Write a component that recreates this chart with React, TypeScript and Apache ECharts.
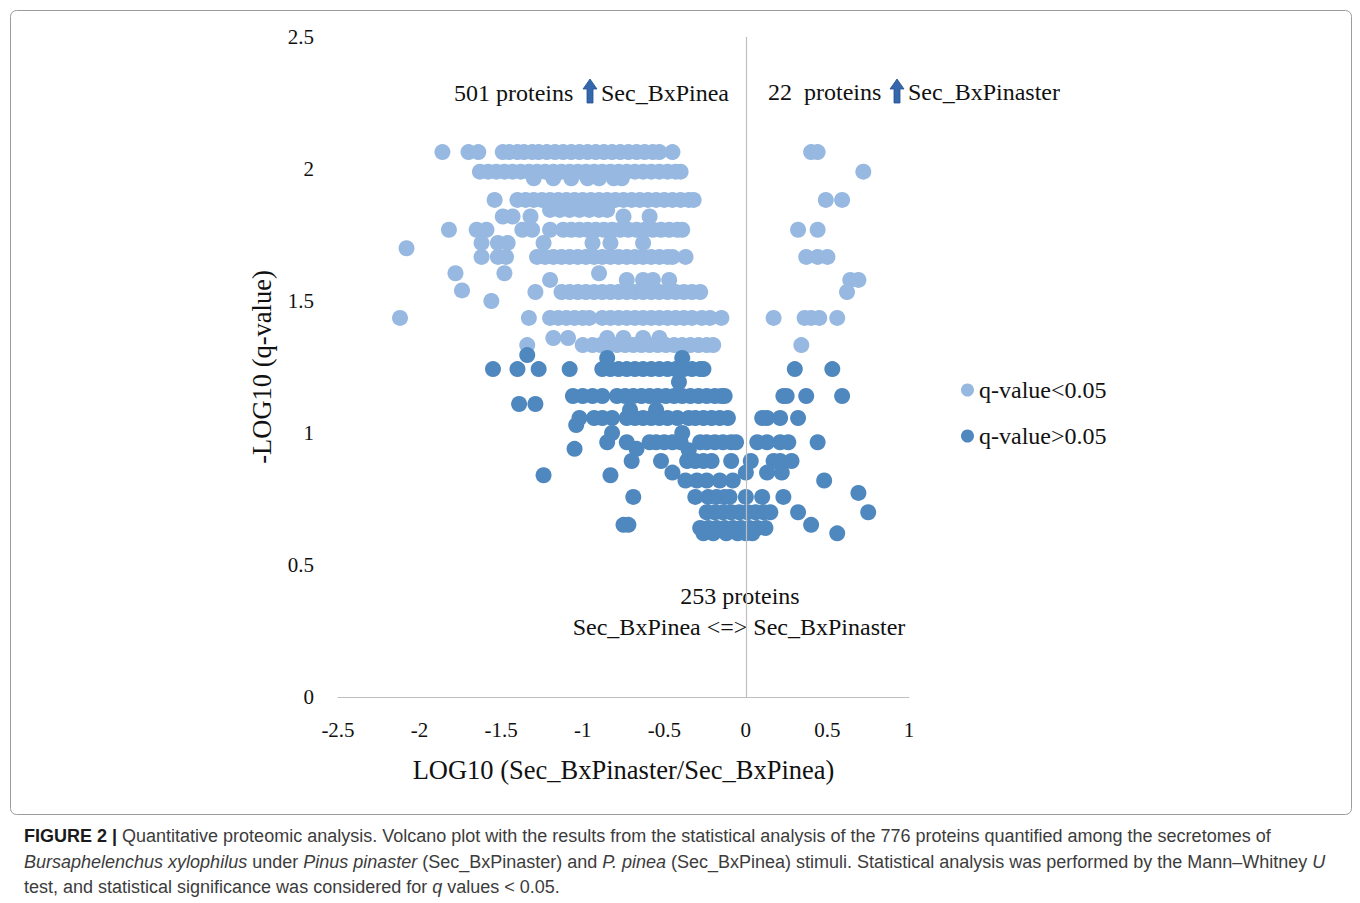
import React, { useEffect, useRef } from "react";
import * as echarts from "echarts";

// -LOG10(q) row levels and LOG10 ratio values for proteins with q-value < 0.05
const sigRowY = [2.064, 1.99, 1.965, 1.883, 1.845, 1.82, 1.77, 1.72, 1.7, 1.667, 1.605, 1.58, 1.54, 1.534, 1.5, 1.436, 1.36, 1.333];
const sigRowX = [
  [-1.86, -1.7, -1.64, -1.49, -1.45, -1.4, -1.36, -1.31, -1.27, -1.22, -1.17, -1.12, -1.07, -1.02, -0.97, -0.92, -0.87, -0.82, -0.77, -0.72, -0.67, -0.62, -0.57, -0.53, -0.45, 0.4, 0.44],
  [-1.63, -1.58, -1.53, -1.48, -1.43, -1.38, -1.33, -1.28, -1.23, -1.18, -1.13, -1.08, -1.03, -0.98, -0.93, -0.88, -0.83, -0.78, -0.73, -0.68, -0.63, -0.58, -0.53, -0.48, -0.43, -0.4, 0.72],
  [-1.3, -1.18, -1.07, -0.97, -0.9, -0.81, -0.76],
  [-1.54, -1.4, -1.35, -1.3, -1.25, -1.2, -1.15, -1.1, -1.05, -1.0, -0.95, -0.9, -0.85, -0.8, -0.75, -0.7, -0.65, -0.6, -0.55, -0.5, -0.45, -0.4, -0.35, -0.32, 0.49, 0.59],
  [-1.2, -1.14, -1.08, -1.02, -0.96, -0.9, -0.85],
  [-1.49, -1.43, -1.32, -0.75, -0.59],
  [-1.82, -1.65, -1.59, -1.37, -1.31, -1.2, -1.12, -1.07, -1.02, -0.97, -0.92, -0.87, -0.82, -0.77, -0.72, -0.67, -0.62, -0.57, -0.52, -0.47, -0.42, -0.39, 0.32, 0.44],
  [-1.62, -1.52, -1.46, -1.24, -0.94, -0.83, -0.63],
  [-2.08],
  [-1.62, -1.52, -1.47, -1.28, -1.23, -1.18, -1.13, -1.08, -1.03, -0.98, -0.93, -0.88, -0.83, -0.78, -0.73, -0.68, -0.63, -0.58, -0.53, -0.48, -0.45, -0.37, 0.37, 0.44, 0.5],
  [-1.78, -1.48, -0.9],
  [-1.2, -0.73, -0.63, -0.57, -0.47, 0.64, 0.69],
  [-1.74],
  [-1.29, -1.13, -1.08, -1.03, -0.98, -0.93, -0.88, -0.83, -0.78, -0.73, -0.68, -0.63, -0.58, -0.53, -0.48, -0.43, -0.38, -0.33, -0.28, 0.62],
  [-1.56],
  [-2.12, -1.33, -1.2, -1.15, -1.1, -1.05, -1.0, -0.96, -0.88, -0.83, -0.78, -0.73, -0.68, -0.63, -0.58, -0.53, -0.48, -0.43, -0.38, -0.33, -0.27, -0.22, -0.15, 0.17, 0.36, 0.4, 0.45, 0.56],
  [-1.18, -1.09, -0.85, -0.75, -0.63, -0.53],
  [-1.34, -1.0, -0.94, -0.89, -0.84, -0.79, -0.74, -0.69, -0.64, -0.59, -0.54, -0.49, -0.44, -0.39, -0.34, -0.29, -0.24, -0.2, 0.34],
];

// proteins with q-value > 0.05
const nsRowY = [1.295, 1.284, 1.242, 1.193, 1.14, 1.11, 1.087, 1.057, 1.03, 1.0, 0.965, 0.94, 0.935, 0.894, 0.85, 0.84, 0.82, 0.773, 0.758, 0.7, 0.652, 0.64, 0.62];
const nsRowX = [
  [-1.34],
  [-0.85, -0.39],
  [-1.55, -1.4, -1.27, -1.08, -0.88, -0.83, -0.78, -0.73, -0.68, -0.63, -0.58, -0.53, -0.48, -0.43, -0.38, -0.33, -0.28, -0.26, 0.3, 0.53],
  [-0.41],
  [-1.06, -1.0, -0.94, -0.88, -0.79, -0.74, -0.69, -0.64, -0.59, -0.54, -0.49, -0.44, -0.39, -0.34, -0.29, -0.24, -0.19, -0.15, -0.13, 0.23, 0.25, 0.37, 0.59],
  [-1.39, -1.29],
  [-0.71, -0.55],
  [-1.02, -0.93, -0.88, -0.82, -0.73, -0.68, -0.63, -0.58, -0.53, -0.48, -0.42, -0.35, -0.31, -0.26, -0.21, -0.16, -0.11, 0.1, 0.13, 0.21, 0.32],
  [-1.04],
  [-0.82, -0.39],
  [-0.85, -0.73, -0.59, -0.55, -0.5, -0.45, -0.4, -0.28, -0.24, -0.19, -0.14, -0.09, -0.06, 0.07, 0.13, 0.21, 0.26, 0.44],
  [-1.05, -0.67],
  [-0.35],
  [-0.7, -0.52, -0.36, -0.31, -0.26, -0.21, -0.09, 0.03, 0.17, 0.21, 0.28],
  [-0.45, 0.0, 0.13, 0.22],
  [-1.24, -0.83],
  [-0.37, -0.3, -0.24, -0.16, -0.08, 0.48],
  [0.69],
  [-0.69, -0.31, -0.23, -0.18, -0.13, -0.1, 0.0, 0.1, 0.23],
  [-0.24, -0.19, -0.14, -0.09, -0.04, 0.01, 0.06, 0.11, 0.15, 0.32, 0.75],
  [-0.75, -0.72, 0.4],
  [-0.28, -0.23, -0.18, -0.13, -0.08, -0.03, 0.02, 0.07, 0.12],
  [-0.26, -0.2, -0.12, -0.05, 0.0, 0.04, 0.56],
];

const seriesNames = ["q-value<0.05", "q-value>0.05"];
const xAxisTitle = "LOG10 (Sec_BxPinaster/Sec_BxPinea)";
const yAxisTitle = "-LOG10 (q-value)";

const SERIF = "'Liberation Serif', 'DejaVu Serif', serif";
const SANS = "'Liberation Sans', Arial, sans-serif";

function toPoints(rowY: number[], rowX: number[][]) {
  const out: number[][] = [];
  rowX.forEach((xs, i) => xs.forEach((x) => out.push([x, rowY[i]])));
  return out;
}

function arrow(cx: number, top: number, bottom: number) {
  return {
    type: "polygon",
    silent: true,
    shape: {
      points: [
        [cx, top],
        [cx + 7, top + 10],
        [cx + 3, top + 10],
        [cx + 3, bottom],
        [cx - 3, bottom],
        [cx - 3, top + 10],
        [cx - 7, top + 10],
      ],
    },
    style: { fill: "#3567AC", stroke: "#24518f", lineWidth: 0.8 },
  };
}

function label(text: string, x: number, y: number, align = "left") {
  return {
    type: "text",
    x,
    y,
    silent: true,
    style: { text, fontSize: 24, fontFamily: SERIF, fill: "#111", align, verticalAlign: "middle" },
  };
}

export default function App() {
  const ref = useRef<HTMLDivElement>(null);
  useEffect(() => {
    const chart = echarts.init(ref.current!, null, { renderer: "svg" });
    const capBase = { fontSize: 18, fontFamily: SANS, fill: "#3c3c3c" };
    chart.setOption({
      animation: false,
      backgroundColor: "#ffffff",
      grid: { left: 338, right: 451, top: 37, bottom: 206 },
      xAxis: {
        type: "value",
        min: -2.5,
        max: 1,
        interval: 0.5,
        axisLine: { show: true, onZero: false, lineStyle: { color: "#BFBFBF", width: 1 } },
        axisTick: { show: false },
        splitLine: { show: false },
        axisLabel: { color: "#111", fontSize: 21, margin: 22, fontFamily: SERIF },
        name: xAxisTitle,
        nameLocation: "middle",
        nameGap: 59,
        nameTextStyle: { fontSize: 26.5, color: "#111", fontFamily: SERIF },
      },
      yAxis: {
        type: "value",
        min: 0,
        max: 2.5,
        interval: 0.5,
        axisLine: { show: false },
        axisTick: { show: false },
        splitLine: { show: false },
        axisLabel: { color: "#111", fontSize: 21, margin: 24, fontFamily: SERIF },
        name: yAxisTitle,
        nameLocation: "middle",
        nameGap: 63,
        nameTextStyle: { fontSize: 26.5, color: "#111", fontFamily: SERIF },
      },
      legend: {
        orient: "vertical",
        left: 956,
        top: 373,
        itemGap: 22,
        itemWidth: 13,
        itemHeight: 13,
        icon: "circle",
        textStyle: { fontSize: 24, color: "#111", fontFamily: SERIF },
        data: seriesNames,
      },
      series: [
        {
          name: seriesNames[0],
          type: "scatter",
          symbolSize: 16,
          data: toPoints(sigRowY, sigRowX),
          itemStyle: { color: "#97B8E0", opacity: 1 },
        },
        {
          name: seriesNames[1],
          type: "scatter",
          symbolSize: 16,
          data: toPoints(nsRowY, nsRowX),
          itemStyle: { color: "#4F88BE", opacity: 1 },
          markLine: {
            silent: true,
            symbol: "none",
            label: { show: false },
            lineStyle: { color: "#BFBFBF", type: "solid", width: 1.2 },
            data: [{ xAxis: 0 }],
          },
        },
      ],
      graphic: [
        {
          type: "rect",
          silent: true,
          shape: { x: 10.5, y: 10.5, width: 1341, height: 804, r: 6 },
          style: { fill: "none", stroke: "#9c9c9c", lineWidth: 1 },
        },
        label("501 proteins", 454, 93),
        arrow(590, 79, 103),
        label("Sec_BxPinea", 601, 93),
        label("22  proteins", 768, 92),
        arrow(897, 79, 103),
        label("Sec_BxPinaster", 908, 92),
        label("253 proteins", 740, 596, "center"),
        label("Sec_BxPinea <=> Sec_BxPinaster", 739, 627, "center"),
        {
          type: "text",
          x: 24,
          y: 836,
          silent: true,
          style: {
            ...capBase,
            verticalAlign: "middle",
            text: "{b|FIGURE 2 |} Quantitative proteomic analysis. Volcano plot with the results from the statistical analysis of the 776 proteins quantified among the secretomes of",
            rich: { b: { ...capBase, fontWeight: "bold", fill: "#1a1a1a" } },
          },
        },
        {
          type: "text",
          x: 24,
          y: 862,
          silent: true,
          style: {
            ...capBase,
            verticalAlign: "middle",
            text: "{i|Bursaphelenchus xylophilus} under {i|Pinus pinaster} (Sec_BxPinaster) and {i|P. pinea} (Sec_BxPinea) stimuli. Statistical analysis was performed by the Mann–Whitney {i|U}",
            rich: { i: { ...capBase, fontStyle: "italic" } },
          },
        },
        {
          type: "text",
          x: 24,
          y: 887,
          silent: true,
          style: {
            ...capBase,
            verticalAlign: "middle",
            text: "test, and statistical significance was considered for {i|q} values < 0.05.",
            rich: { i: { ...capBase, fontStyle: "italic" } },
          },
        },
      ],
    });
    return () => chart.dispose();
  }, []);
  return (
    <div
      ref={ref}
      style={{ position: "absolute", left: 0, top: 0, width: 1360, height: 903, background: "#fff" }}
    />
  );
}
